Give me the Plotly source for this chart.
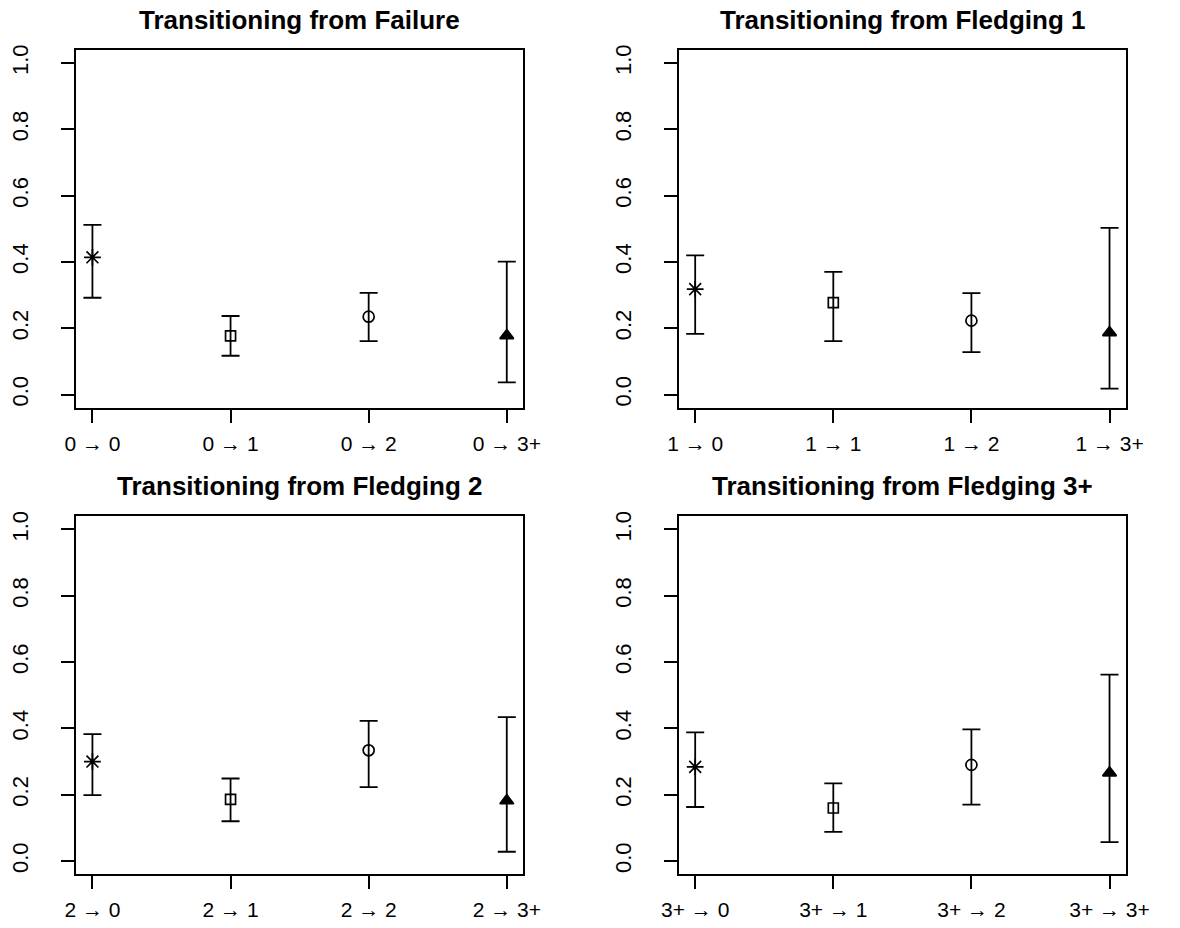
import plotly.graph_objects as go

# Breeding-outcome categories (number fledged) and panel titles
states = ["0", "1", "2", "3+"]
panel_titles = [
    "Transitioning from Failure",
    "Transitioning from Fledging 1",
    "Transitioning from Fledging 2",
    "Transitioning from Fledging 3+",
]

# Transition probability estimates with lower / upper interval bounds
est_from_0 = [0.414, 0.177, 0.235, 0.178]
lo_from_0 = [0.292, 0.117, 0.161, 0.037]
hi_from_0 = [0.512, 0.237, 0.307, 0.401]

est_from_1 = [0.318, 0.277, 0.223, 0.187]
lo_from_1 = [0.183, 0.161, 0.128, 0.018]
hi_from_1 = [0.420, 0.370, 0.306, 0.503]

est_from_2 = [0.300, 0.186, 0.334, 0.182]
lo_from_2 = [0.199, 0.120, 0.223, 0.028]
hi_from_2 = [0.383, 0.249, 0.423, 0.434]

est_from_3 = [0.284, 0.160, 0.290, 0.266]
lo_from_3 = [0.163, 0.088, 0.170, 0.057]
hi_from_3 = [0.388, 0.234, 0.397, 0.562]

y_ticks = [0.0, 0.2, 0.4, 0.6, 0.8, 1.0]

estimates = [est_from_0, est_from_1, est_from_2, est_from_3]
lowers = [lo_from_0, lo_from_1, lo_from_2, lo_from_3]
uppers = [hi_from_0, hi_from_1, hi_from_2, hi_from_3]

W, H = 1180, 928
FONT = "Liberation Sans, Arial, Helvetica, sans-serif"

# plot boxes in pixels: (left, right, top, bottom)
boxes = [
    (60, 524, 45, 405),
    (685, 1149, 45, 405),
    (60, 524, 514, 874),
    (685, 1149, 514, 874),
]
symbols = ["asterisk-open", "square-open", "circle-open", "triangle-up"]
sizes = [14, 10, 11, 12]

fig = go.Figure()
layout = dict(
    width=W, height=H, autosize=False,
    margin=dict(l=0, r=0, t=0, b=0),
    paper_bgcolor="white", plot_bgcolor="white",
    showlegend=False,
    font=dict(family=FONT, color="black", size=20),
)
annotations = []

for p in range(4):
    left, right, top, bottom = boxes[p]
    xa = "xaxis" if p == 0 else f"xaxis{p + 1}"
    ya = "yaxis" if p == 0 else f"yaxis{p + 1}"
    xref = "x" if p == 0 else f"x{p + 1}"
    yref = "y" if p == 0 else f"y{p + 1}"
    from_state = states[p]
    ticktext = [f"{from_state} \u2192 {s}" for s in states]
    xs = [1, 2, 3, 4]

    est, lo, hi = estimates[p], lowers[p], uppers[p]
    for i in range(4):
        fig.add_trace(go.Scatter(
            x=[xs[i]], y=[est[i]], xaxis=xref, yaxis=yref,
            mode="markers",
            marker=dict(symbol=symbols[i], size=sizes[i], color="black",
                        line=dict(color="black", width=1.7)),
            error_y=dict(type="data", symmetric=False,
                         array=[hi[i] - est[i]], arrayminus=[est[i] - lo[i]],
                         color="black", thickness=1.8, width=9),
            hoverinfo="skip",
        ))

    layout[xa] = dict(
        domain=[left / W, right / W], range=[0.88, 4.12],
        anchor=yref, tickvals=xs, ticktext=ticktext,
        showgrid=False, zeroline=False,
        showline=True, mirror=True, linecolor="black", linewidth=2,
        ticks="outside", ticklen=13, tickwidth=2, tickcolor="black",
        ticklabelstandoff=3,
        tickfont=dict(family=FONT, size=21, color="black"),
        fixedrange=True,
    )
    layout[ya] = dict(
        domain=[1 - bottom / H, 1 - top / H], range=[-0.04, 1.04],
        anchor=xref, tickvals=y_ticks, ticktext=[f"{v:.1f}" for v in y_ticks],
        tickangle=-90,
        showgrid=False, zeroline=False,
        showline=True, mirror=True, linecolor="black", linewidth=2,
        ticks="outside", ticklen=13, tickwidth=2, tickcolor="black",
        ticklabelstandoff=24,
        tickfont=dict(family=FONT, size=22, color="black"),
        fixedrange=True,
    )
    annotations.append(dict(
        text=f"<b>{panel_titles[p]}</b>", xref="paper", yref="paper",
        x=(left + right) / 2 / W, y=1 - (top - 30) / H,
        xanchor="center", yanchor="middle", showarrow=False,
        font=dict(family=FONT, size=26, color="black"),
    ))

layout["annotations"] = annotations
fig.update_layout(**layout)
fig.write_html("out.html")
